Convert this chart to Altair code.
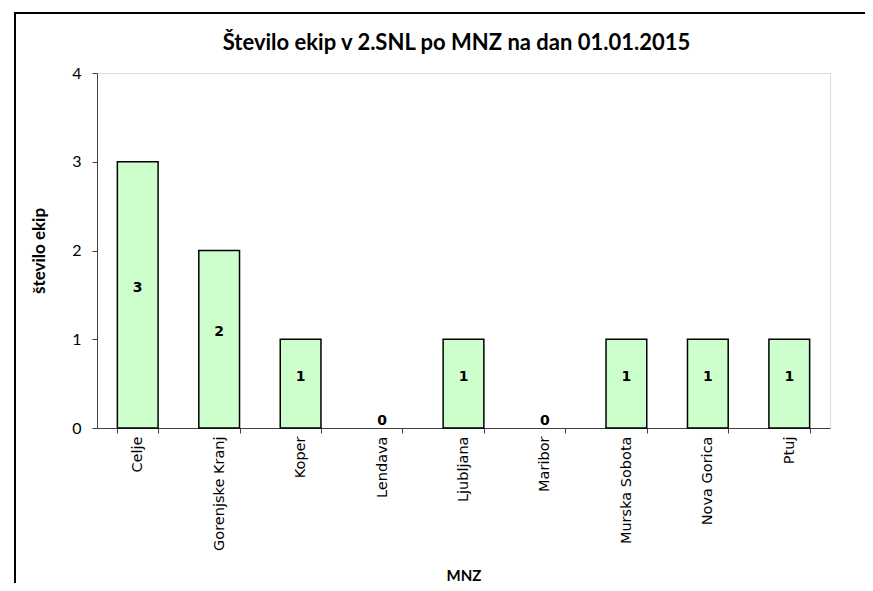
import altair as alt
import pandas as pd

categories = ["Celje", "Gorenjske Kranj", "Koper", "Lendava", "Ljubljana",
              "Maribor", "Murska Sobota", "Nova Gorica", "Ptuj"]
values = [3, 2, 1, 0, 1, 0, 1, 1, 1]

title_text = "Število ekip v 2.SNL po MNZ na dan 01.01.2015"
y_title = "število ekip"
x_title = "MNZ"

df = pd.DataFrame({"mnz": categories, "n": values})

W, H = 733, 355

x_enc = alt.X("mnz:N", sort=categories, title=x_title,
              scale=alt.Scale(paddingInner=0.5, paddingOuter=0.25),
              axis=alt.Axis(labelAngle=-90, labelAlign="right", labelBaseline="middle",
                            labelFont="DejaVu Sans", labelFontSize=14.5, labelColor="black",
                            labelPadding=3, tickSize=5, tickBand="extent",
                            tickColor="#404040", domainColor="#404040",
                            titleFont="Lato", titleFontSize=15, titleFontWeight="bold",
                            titleColor="black", titleY=147, titleBaseline="middle"))

y_scale = alt.Scale(domain=[0, 4], nice=False)

bars = alt.Chart(df).transform_filter("datum.n > 0").mark_bar(
    fill="#CCFFCC", stroke="black", strokeWidth=1.5
).encode(
    x=x_enc,
    y=alt.Y("n:Q", scale=y_scale, title=y_title,
            axis=alt.Axis(values=[0, 1, 2, 3, 4], format="d", grid=False, tickSize=5,
                          labelFont="Lato", labelFontSize=16, labelColor="black",
                          labelPadding=11, tickColor="#404040", domainColor="#404040",
                          titleFont="Lato", titleFontSize=17, titleFontWeight="bold",
                          titleColor="black", titleX=-58, titleBaseline="middle")),
)

labels = alt.Chart(df).transform_calculate(mid="datum.n / 2").mark_text(
    font="DejaVu Sans", fontSize=14, fontWeight="bold", color="black",
    baseline="middle", align="center", dy=-7
).encode(
    x=alt.X("mnz:N", sort=categories),
    y=alt.Y("mid:Q", scale=y_scale),
    text=alt.Text("n:Q"),
)

one = pd.DataFrame({"a": [0]})
frame_top = alt.Chart(one).mark_rule(stroke="black", strokeWidth=2).encode(
    x=alt.value(-82), x2=alt.value(900), y=alt.value(-60)
)
frame_left = alt.Chart(one).mark_rule(stroke="black", strokeWidth=2).encode(
    x=alt.value(-82), y=alt.value(-61), y2=alt.value(620)
)

title = alt.Chart(pd.DataFrame({"t": [title_text]})).mark_text(
    font="Lato", fontSize=22, fontWeight="bold", color="black",
    align="center", baseline="middle"
).encode(
    text="t:N", x=alt.value(W / 2 - 7), y=alt.value(-30)
)

chart = alt.layer(frame_top, frame_left, bars, labels, title).properties(
    width=W, height=H,
    autosize=alt.AutoSizeParams(type="none"),
    padding={"left": 89, "top": 65, "right": 35, "bottom": 155},
).configure_view(
    stroke="#a0a0a0", strokeWidth=2
).configure(background="white")

chart.save("out.html", embed_options={"renderer": "svg", "actions": False})
